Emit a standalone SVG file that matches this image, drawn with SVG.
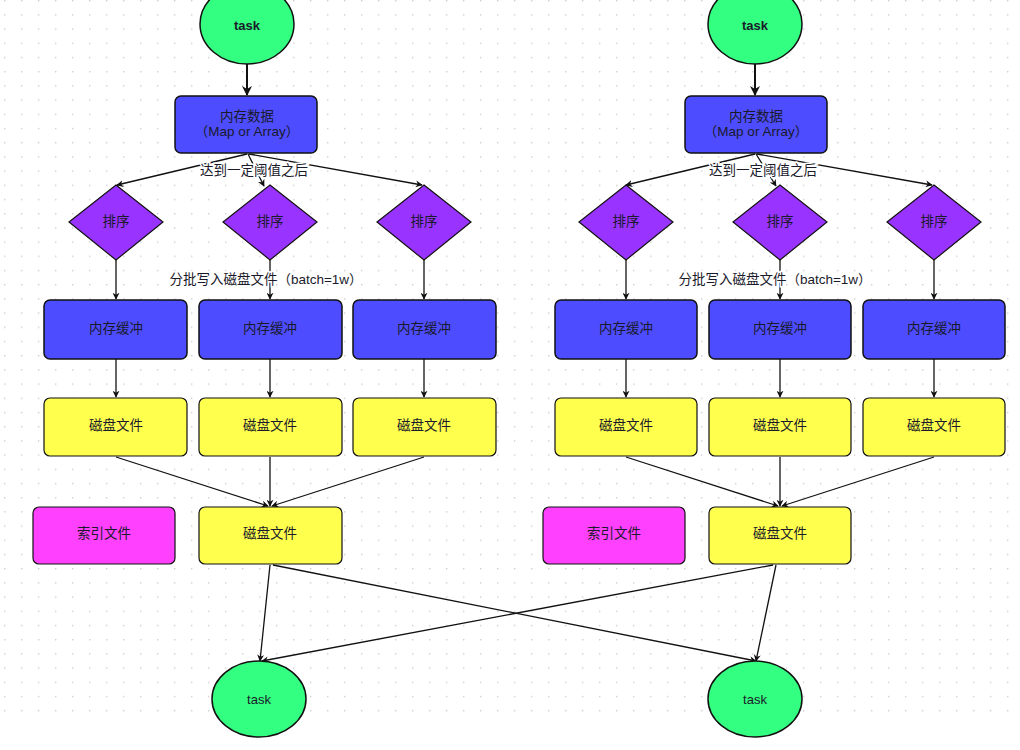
<svg xmlns="http://www.w3.org/2000/svg" width="1020" height="750" viewBox="0 0 1020 750">
<defs>
<pattern id="grid" width="17" height="14.2" patternUnits="userSpaceOnUse" x="4" y="0">
<rect x="0" y="0" width="1.4" height="1.4" fill="#d0d0d0"/>
</pattern>
<marker id="arr" viewBox="0 0 10 10" refX="9" refY="5" markerWidth="7" markerHeight="7" orient="auto" markerUnits="userSpaceOnUse">
<path d="M0,0 L10,5 L0,10 L3,5 z" fill="#111"/>
</marker>
<marker id="arrB" viewBox="0 0 10 10" refX="9" refY="5" markerWidth="10" markerHeight="10" orient="auto" markerUnits="userSpaceOnUse">
<path d="M0,0 L10,5 L0,10 L3,5 z" fill="#111"/>
</marker>
<style>
text{font-family:"Liberation Sans","Noto Sans CJK SC",sans-serif;font-size:13.5px;fill:#1a1a2a;text-anchor:middle;dominant-baseline:central}
.task{fill:#33FF80;stroke:#111;stroke-width:1.5}
.mem{fill:#4D4DFF;stroke:#111;stroke-width:1.5}
.dia{fill:#9933FF;stroke:#111;stroke-width:1.2}
.disk{fill:#FFFF4D;stroke:#111;stroke-width:1.2}
.idx{fill:#FF40FF;stroke:#111;stroke-width:1.2}
.c{stroke:#111;stroke-width:1.3;fill:none;marker-end:url(#arr)}
.cb{stroke:#111;stroke-width:2;fill:none;marker-end:url(#arrB)}
.lbl{font-size:13.5px;paint-order:stroke;stroke:#fff;stroke-width:3px}
.tb{font-weight:bold;font-size:13px}
.tn{font-size:13px}
</style>
</defs>
<rect width="1020" height="750" fill="#fff"/>
<rect x="0" y="0" width="1020" height="722" fill="url(#grid)"/>

<g id="connectors">
<line class="cb" x1="247" y1="64" x2="247" y2="95"/>
<line class="c" x1="247" y1="154" x2="117" y2="185"/>
<line class="c" x1="248" y1="154" x2="264" y2="186"/>
<line class="c" x1="249" y1="154" x2="422" y2="185"/>
<line class="c" x1="116" y1="260" x2="116" y2="299"/>
<line class="c" x1="270" y1="260" x2="270" y2="299"/>
<line class="c" x1="424" y1="260" x2="424" y2="299"/>
<line class="c" x1="116" y1="359" x2="116" y2="397"/>
<line class="c" x1="270" y1="359" x2="270" y2="397"/>
<line class="c" x1="424" y1="359" x2="424" y2="397"/>
<line class="c" x1="116" y1="457" x2="268" y2="506"/>
<line class="c" x1="270" y1="457" x2="270" y2="506"/>
<line class="c" x1="424" y1="457" x2="272" y2="506"/>

<line class="cb" x1="755" y1="64" x2="755" y2="95"/>
<line class="c" x1="755" y1="154" x2="626" y2="185"/>
<line class="c" x1="756" y1="154" x2="776" y2="186"/>
<line class="c" x1="757" y1="154" x2="932" y2="185"/>
<line class="c" x1="626" y1="260" x2="626" y2="299"/>
<line class="c" x1="780" y1="260" x2="780" y2="299"/>
<line class="c" x1="934" y1="260" x2="934" y2="299"/>
<line class="c" x1="626" y1="359" x2="626" y2="397"/>
<line class="c" x1="780" y1="359" x2="780" y2="397"/>
<line class="c" x1="934" y1="359" x2="934" y2="397"/>
<line class="c" x1="626" y1="457" x2="778" y2="506"/>
<line class="c" x1="780" y1="457" x2="780" y2="506"/>
<line class="c" x1="934" y1="457" x2="782" y2="506"/>

<line class="c" x1="270" y1="565" x2="260" y2="661"/>
<line class="c" x1="273" y1="565" x2="756" y2="661"/>
<line class="c" x1="776" y1="565" x2="756" y2="661"/>
<line class="c" x1="773" y1="565" x2="262" y2="661"/>
<text class="lbl" x="254" y="170">达到一定阈值之后</text>
<text class="lbl" x="266" y="279">分批写入磁盘文件（batch=1w）</text>
<text class="lbl" x="763" y="170">达到一定阈值之后</text>
<text class="lbl" x="775" y="279">分批写入磁盘文件（batch=1w）</text>
</g>

<g id="task-top-left"><ellipse class="task" cx="247" cy="24" rx="47" ry="40"/><text class="tb" x="247" y="25">task</text></g>
<g id="mem-data-left"><rect class="mem" x="175" y="96" width="142" height="57" rx="6"/><text x="247" y="116">内存数据</text><text x="247" y="131">（Map or Array）</text></g>
<g id="sort-l1"><polygon class="dia" points="116,185 163,222 116,260 69,222"/><text x="116" y="221">排序</text></g>
<g id="sort-l2"><polygon class="dia" points="270,185 317,222 270,260 223,222"/><text x="270" y="221">排序</text></g>
<g id="sort-l3"><polygon class="dia" points="424,185 471,222 424,260 377,222"/><text x="424" y="221">排序</text></g>
<g id="buf-l1"><rect class="mem" x="44" y="300" width="143" height="59" rx="6"/><text x="116" y="328">内存缓冲</text></g>
<g id="buf-l2"><rect class="mem" x="199" y="300" width="143" height="59" rx="6"/><text x="270" y="328">内存缓冲</text></g>
<g id="buf-l3"><rect class="mem" x="353" y="300" width="143" height="59" rx="6"/><text x="424" y="328">内存缓冲</text></g>
<g id="disk-l1"><rect class="disk" x="44" y="398" width="143" height="58" rx="6"/><text x="116" y="425">磁盘文件</text></g>
<g id="disk-l2"><rect class="disk" x="199" y="398" width="143" height="58" rx="6"/><text x="270" y="425">磁盘文件</text></g>
<g id="disk-l3"><rect class="disk" x="353" y="398" width="143" height="58" rx="6"/><text x="424" y="425">磁盘文件</text></g>
<g id="index-left"><rect class="idx" x="33" y="507" width="142" height="57" rx="6"/><text x="104" y="533">索引文件</text></g>
<g id="disk-merged-left"><rect class="disk" x="199" y="507" width="143" height="57" rx="6"/><text x="270" y="533">磁盘文件</text></g>

<g id="task-top-right"><ellipse class="task" cx="755" cy="24" rx="47" ry="40"/><text class="tb" x="755" y="25">task</text></g>
<g id="mem-data-right"><rect class="mem" x="685" y="96" width="142" height="57" rx="6"/><text x="756" y="116">内存数据</text><text x="756" y="131">（Map or Array）</text></g>
<g id="sort-r1"><polygon class="dia" points="626,185 673,222 626,260 579,222"/><text x="626" y="221">排序</text></g>
<g id="sort-r2"><polygon class="dia" points="780,185 827,222 780,260 733,222"/><text x="780" y="221">排序</text></g>
<g id="sort-r3"><polygon class="dia" points="934,185 981,222 934,260 887,222"/><text x="934" y="221">排序</text></g>
<g id="buf-r1"><rect class="mem" x="555" y="300" width="142" height="59" rx="6"/><text x="626" y="328">内存缓冲</text></g>
<g id="buf-r2"><rect class="mem" x="709" y="300" width="142" height="59" rx="6"/><text x="780" y="328">内存缓冲</text></g>
<g id="buf-r3"><rect class="mem" x="863" y="300" width="142" height="59" rx="6"/><text x="934" y="328">内存缓冲</text></g>
<g id="disk-r1"><rect class="disk" x="555" y="398" width="142" height="58" rx="6"/><text x="626" y="425">磁盘文件</text></g>
<g id="disk-r2"><rect class="disk" x="709" y="398" width="142" height="58" rx="6"/><text x="780" y="425">磁盘文件</text></g>
<g id="disk-r3"><rect class="disk" x="863" y="398" width="142" height="58" rx="6"/><text x="934" y="425">磁盘文件</text></g>
<g id="index-right"><rect class="idx" x="543" y="507" width="142" height="57" rx="6"/><text x="614" y="533">索引文件</text></g>
<g id="disk-merged-right"><rect class="disk" x="709" y="507" width="142" height="57" rx="6"/><text x="780" y="533">磁盘文件</text></g>

<g id="task-bottom-left"><ellipse class="task" cx="259" cy="699" rx="47" ry="38"/><text class="tn" x="259" y="699">task</text></g>
<g id="task-bottom-right"><ellipse class="task" cx="755" cy="699" rx="47" ry="38"/><text class="tn" x="755" y="699">task</text></g>
</svg>
